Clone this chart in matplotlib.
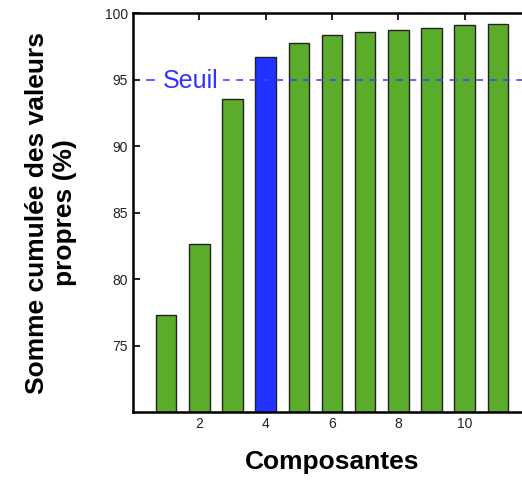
import matplotlib
matplotlib.use("Agg")
import matplotlib.pyplot as plt

plt.rcParams['font.family'] = ['Liberation Sans', 'DejaVu Sans']

composantes = [1, 2, 3, 4, 5, 6, 7, 8, 9, 10, 11]
cumul = [77.3, 82.6, 93.5, 96.7, 97.75, 98.35, 98.55, 98.7, 98.9, 99.1, 99.2]
seuil = 95
selected = 4

green = '#5aac2a'
blue = '#2233ff'
colors = [blue if c == selected else green for c in composantes]

fig = plt.figure(figsize=(5.22, 4.8), dpi=100)
ax = fig.add_axes([133 / 522, 68 / 480, 398 / 522, 399 / 480])

ax.bar(composantes, cumul, width=0.62, color=colors, edgecolor='#222222', linewidth=1.0, zorder=2)
# dashed threshold line, interrupted where the label sits
ax.axhline(seuil, xmin=0.035, xmax=0.052, color='#4444ff', linewidth=1.2, zorder=3)
ax.axhline(seuil, xmin=0.225, xmax=1.0, color='#4444ff', linestyle=(0, (4, 4)), linewidth=1.2, zorder=3)
ax.text(0.9, seuil - 0.1, 'Seuil', color='#3333ff', fontsize=18, va='center', ha='left', zorder=4)

ax.set_xlim(0, 12)
ax.set_ylim(70, 100)
ax.set_xticks([2, 4, 6, 8, 10])
ax.set_yticks([75, 80, 85, 90, 95, 100])
ax.tick_params(direction='in', top=True, right=True, labelsize=10, length=5, width=1.2,
               labelcolor='#222222')
for s in ax.spines.values():
    s.set_linewidth(1.8)

ax.set_xlabel('Composantes', fontsize=19, fontweight='bold', labelpad=14)
ax.set_ylabel('Somme cumulée des valeurs\npropres (%)', fontsize=19, fontweight='bold', labelpad=20)

fig.savefig('out.png', dpi=100)
